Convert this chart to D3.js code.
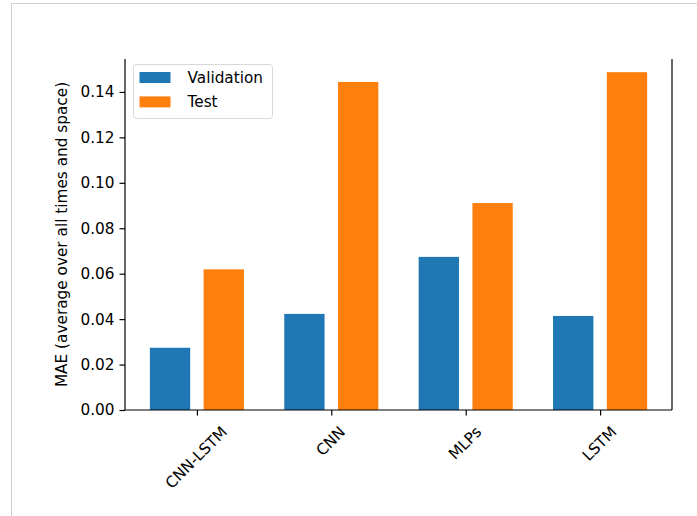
<!DOCTYPE html>
<html>
<head>
<meta charset="utf-8">
<script src="https://cdn.jsdelivr.net/npm/d3@7"></script>
<style>
  html, body { margin: 0; padding: 0; background: #fff; }
  svg text { font-family: "DejaVu Sans", sans-serif; fill: #000; }
</style>
</head>
<body>
<div id="chart"></div>
<script>
const models = ['CNN-LSTM', 'CNN', 'MLPs', 'LSTM'];
const validation = [0.0274, 0.0423, 0.0674, 0.0414];
const test = [0.0619, 0.1444, 0.0911, 0.1487];
const yTicks = [0.00, 0.02, 0.04, 0.06, 0.08, 0.10, 0.12, 0.14];
const yLimit = 0.1545;
const seriesNames = ['Validation', 'Test'];
const colors = ['#1f77b4', '#ff7f0e'];

const W = 697, H = 516;
const margin = { top: 59, right: 25, bottom: 106, left: 125 };
const width = W - margin.left - margin.right;
const height = H - margin.top - margin.bottom;
const fontSize = 15.3;

const svgRoot = d3.select('#chart').append('svg')
    .attr('width', W)
    .attr('height', H);

// notebook cell frame
svgRoot.append('line').attr('x1', 11).attr('x2', W).attr('y1', 3.5).attr('y2', 3.5)
    .attr('stroke', '#cfcfcf').attr('stroke-width', 1);
svgRoot.append('line').attr('x1', 11.5).attr('x2', 11.5).attr('y1', 3).attr('y2', H)
    .attr('stroke', '#cfcfcf').attr('stroke-width', 1);

const svg = svgRoot.append('g')
    .attr('transform', `translate(${margin.left},${margin.top})`);

// bars of width 0.3 at -0.2/+0.2 around each category, 5% padding
const barW = 0.3, off = 0.2;
const lo = -off - barW / 2, hi = models.length - 1 + off + barW / 2;
const pad = (hi - lo) * 0.05;
const x = d3.scaleLinear().domain([lo - pad, hi + pad]).range([0, width]);
const y = d3.scaleLinear().domain([0, yLimit]).range([height, 0]);

const series = [validation, test];
series.forEach((vals, s) => {
    svg.selectAll('.bar' + s)
        .data(vals)
        .enter().append('rect')
        .attr('class', 'bar' + s)
        .attr('x', (d, i) => x(i + (s === 0 ? -off : off) - barW / 2))
        .attr('width', x(barW) - x(0))
        .attr('y', d => y(d))
        .attr('height', d => height - y(d))
        .style('fill', colors[s]);
});

// y axis
const yAxis = d3.axisLeft(y).tickValues(yTicks).tickFormat(d3.format('.2f'))
    .tickSize(5.5).tickPadding(5);
const gy = svg.append('g').call(yAxis);
gy.select('.domain').remove();
gy.selectAll('line').attr('stroke', '#000').attr('stroke-width', 1.2);
gy.selectAll('text').style('font-size', fontSize + 'px');

// x axis
const xAxis = d3.axisBottom(x).tickValues(d3.range(models.length))
    .tickFormat(i => models[i]).tickSize(5.5);
const gx = svg.append('g').attr('transform', `translate(0,${height})`).call(xAxis);
gx.select('.domain').remove();
gx.selectAll('line').attr('stroke', '#000').attr('stroke-width', 1.2);
gx.selectAll('text')
    .style('font-size', fontSize + 'px')
    .attr('text-anchor', 'middle')
    .attr('dy', null)
    .attr('dominant-baseline', 'central')
    .each(function () {
        const w = this.getComputedTextLength();
        const h = fontSize * 1.0;
        const cy = 14 + (w + h) * Math.SQRT1_2 / 2;
        d3.select(this).attr('y', 0)
            .attr('transform', `translate(-1,${cy}) rotate(-45)`);
    });

// spines: left, right, bottom
svg.append('line').attr('x1', 0).attr('x2', 0).attr('y1', 0).attr('y2', height)
    .attr('stroke', '#000').attr('stroke-width', 1.2);
svg.append('line').attr('x1', width).attr('x2', width).attr('y1', 0).attr('y2', height)
    .attr('stroke', '#000').attr('stroke-width', 1.2);
svg.append('line').attr('x1', 0).attr('x2', width).attr('y1', height).attr('y2', height)
    .attr('stroke', '#000').attr('stroke-width', 1.2);

// y label
svg.append('text')
    .attr('transform', `translate(-63,${height / 2}) rotate(-90)`)
    .attr('text-anchor', 'middle')
    .attr('dominant-baseline', 'central')
    .style('font-size', fontSize + 'px')
    .text('MAE (average over all times and space)');

// legend
const legend = svg.append('g').attr('transform', 'translate(8.5,5.5)');
legend.append('rect')
    .attr('width', 139).attr('height', 54).attr('rx', 3)
    .style('fill', '#fff').style('fill-opacity', 0.8)
    .style('stroke', '#d9d9d9').style('stroke-width', 1);
const items = legend.selectAll('.legend')
    .data(seriesNames)
    .enter().append('g')
    .attr('class', 'legend')
    .attr('transform', (d, i) => `translate(6,${13 + i * 24.4})`);
items.append('rect')
    .attr('x', 0).attr('y', -5.5).attr('width', 31).attr('height', 11)
    .style('fill', (d, i) => colors[i]);
items.append('text')
    .attr('x', 48).attr('y', 0)
    .attr('dominant-baseline', 'central')
    .style('font-size', fontSize + 'px')
    .text(d => d);
</script>
</body>
</html>
